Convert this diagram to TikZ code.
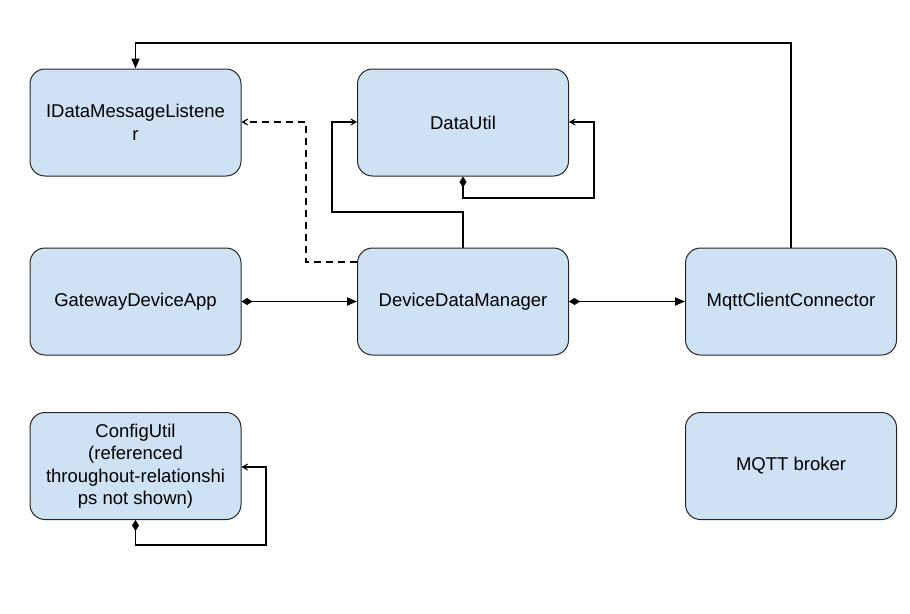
\documentclass[tikz,border=0pt]{standalone}
\usepackage{fontspec}
\setmainfont{Liberation Sans}
\usetikzlibrary{arrows.meta}
\begin{document}
\begin{tikzpicture}[x=1pt,y=-1pt,
  cls/.style={draw=black!85, line width=1pt, fill=boxfill, rounded corners=15pt,
    minimum width=211pt, minimum height=107pt, align=center, inner sep=0pt,
    font=\fontsize{18.5}{23}\selectfont},
  link/.style={line width=1.8pt, black},
  dep/.style={link, dashed, dash pattern=on 7pt off 5pt},
  opentip/.style={-{Stealth[length=9pt,width=10pt,inset=6pt,line width=0.6pt]}},
  solidtip/.style={-{Triangle[length=10pt,width=8pt]}},
  owns/.style={{Diamond[length=11pt,width=7pt]}-},
  ownstip/.style={{Diamond[length=11pt,width=7pt]}-{Triangle[length=10pt,width=8pt]}},
  ownsopen/.style={{Diamond[length=11pt,width=7pt]}-{Stealth[length=9pt,width=10pt,inset=6pt,line width=0.6pt]}}
]
\definecolor{boxfill}{HTML}{CFE2F3}
\useasboundingbox (0,0) rectangle (910,613);

% classes
\node[cls] (listener) at (135.5,122.5) {IDataMessageListene\\r};
\node[cls] (datautil) at (463,122.5) {DataUtil};
\node[cls] (gateway) at (135.5,301.5) {GatewayDeviceApp};
\node[cls] (ddm) at (463,301.5) {DeviceDataManager};
\node[cls] (mqtt) at (791,301.5) {MqttClientConnector};
\node[cls, font=\fontsize{18.5}{22.5}\selectfont] (config) at (135.5,466) {ConfigUtil\\(referenced\\throughout-relationshi\\ps not shown)};
\node[cls] (broker) at (791,466) {MQTT broker};

% bend points
\coordinate (topR) at (mqtt.north |- 0,43);
\coordinate (topL) at (listener.north |- 0,43);
\coordinate (dashA) at (306,262);
\coordinate (dashB) at (306,122);
\coordinate (duA) at (ddm.north |- 0,212);
\coordinate (duB) at (332,212);
\coordinate (duC) at (332,122);
\coordinate (selfA) at (datautil.south |- 0,198);
\coordinate (selfB) at (594,198);
\coordinate (selfC) at (594,122);
\coordinate (cfgA) at (config.south |- 0,545);
\coordinate (cfgB) at (266,545);
\coordinate (cfgC) at (266,467);

% connectors
\draw[link, solidtip] (mqtt.north) -- (topR) -- (topL) -- (listener.north);
\draw[dep, opentip] (ddm.west |- dashA) -- (dashA) -- (dashB) -- (listener.east |- dashB);
\draw[link, opentip] (ddm.north) -- (duA) -- (duB) -- (duC) -- (datautil.west |- duC);
\draw[link, ownsopen] (datautil.south) -- (selfA) -- (selfB) -- (selfC) -- (datautil.east |- selfC);
\draw[link, ownstip] (gateway.east) -- (ddm.west);
\draw[link, ownstip] (ddm.east) -- (mqtt.west);
\draw[link, ownsopen] (config.south) -- (cfgA) -- (cfgB) -- (cfgC) -- (config.east |- cfgC);
\end{tikzpicture}
\end{document}
